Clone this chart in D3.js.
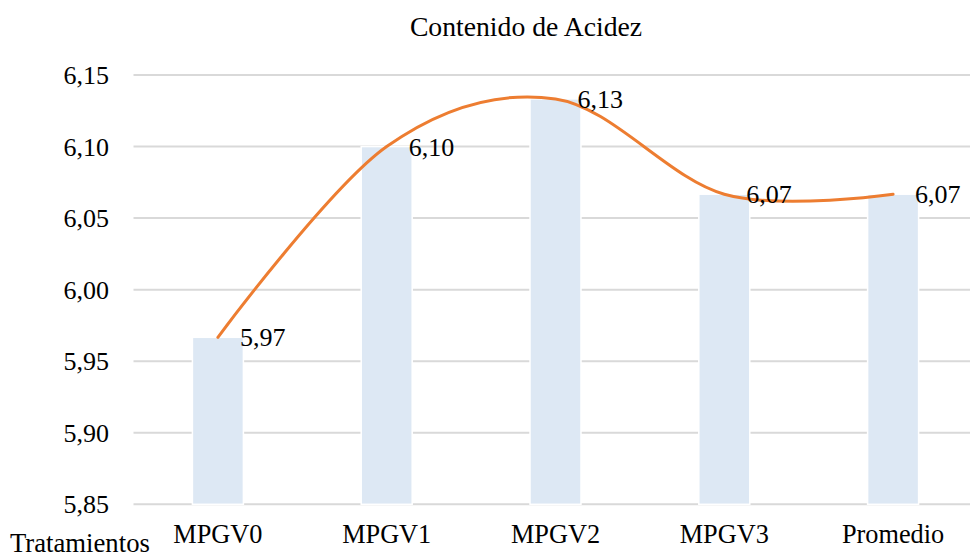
<!DOCTYPE html>
<html>
<head>
<meta charset="utf-8">
<script src="https://cdn.jsdelivr.net/npm/d3@7.9.0/dist/d3.min.js"></script>
<style>
  body { margin: 0; background: #fff; }
  svg text { font-family: "Liberation Serif", "Times New Roman", serif; fill: #000; }
</style>
</head>
<body>
<div id="chart"></div>
<script>
// values
const categories = ["MPGV0", "MPGV1", "MPGV2", "MPGV3", "Promedio"];
const acidez = [5.9667, 6.10, 6.1333, 6.0667, 6.0667];
const yTicks = [5.85, 5.90, 5.95, 6.00, 6.05, 6.10, 6.15];

const width = 970, height = 556;
const fmt = (v) => v.toFixed(2).replace(".", ",");

const svg = d3.select("#chart")
  .append("svg")
  .attr("width", width)
  .attr("height", height);

const x = d3.scaleBand()
  .domain(categories)
  .range([133.5, 977.5])
  .paddingInner(0.698)
  .paddingOuter(0.349);

const y = d3.scaleLinear()
  .domain([5.85, 6.15])
  .range([504.3, 75]);

const cx = (d) => x(d) + x.bandwidth() / 2;

// title
svg.append("text")
  .attr("x", 526)
  .attr("y", 36)
  .attr("text-anchor", "middle")
  .style("font-size", "27.7px")
  .text("Contenido de Acidez");

// gridlines
svg.append("g")
  .selectAll("line")
  .data(yTicks)
  .enter()
  .append("line")
  .attr("x1", 133.5)
  .attr("x2", width)
  .attr("y1", (d) => y(d))
  .attr("y2", (d) => y(d))
  .attr("stroke", "#d9d9d9")
  .attr("stroke-width", 2);

// y tick labels
svg.append("g")
  .selectAll("text")
  .data(yTicks)
  .enter()
  .append("text")
  .attr("x", 109)
  .attr("y", (d) => y(d))
  .attr("dy", "0.35em")
  .attr("text-anchor", "end")
  .style("font-size", "26px")
  .text(fmt);

// bars
svg.append("g")
  .selectAll("rect")
  .data(categories)
  .enter()
  .append("rect")
  .attr("x", (d) => x(d))
  .attr("y", (d, i) => y(acidez[i]))
  .attr("width", x.bandwidth())
  .attr("height", (d, i) => y(5.85) - y(acidez[i]))
  .attr("fill", "#dde8f4")
  .attr("stroke", "#fff")
  .attr("stroke-width", 1.5);

// smoothed line through the bar tops
const line = d3.line()
  .x((d) => cx(d[0]))
  .y((d) => y(d[1]))
  .curve(d3.curveCatmullRom.alpha(0));

svg.append("path")
  .datum(categories.map((c, i) => [c, acidez[i]]))
  .attr("d", line)
  .attr("fill", "none")
  .attr("stroke", "#ed7d31")
  .attr("stroke-width", 3)
  .attr("stroke-linecap", "round");

// data labels
svg.append("g")
  .selectAll("text")
  .data(categories)
  .enter()
  .append("text")
  .attr("x", (d) => cx(d) + 22)
  .attr("y", (d, i) => y(acidez[i]))
  .attr("dy", "0.35em")
  .style("font-size", "26px")
  .text((d, i) => fmt(acidez[i]));

// x labels
svg.append("g")
  .selectAll("text")
  .data(categories)
  .enter()
  .append("text")
  .attr("x", (d) => cx(d))
  .attr("y", 543)
  .attr("text-anchor", "middle")
  .style("font-size", "26.3px")
  .text((d) => d);

svg.append("text")
  .attr("x", 10)
  .attr("y", 551.5)
  .style("font-size", "26.7px")
  .text("Tratamientos");
</script>
</body>
</html>
